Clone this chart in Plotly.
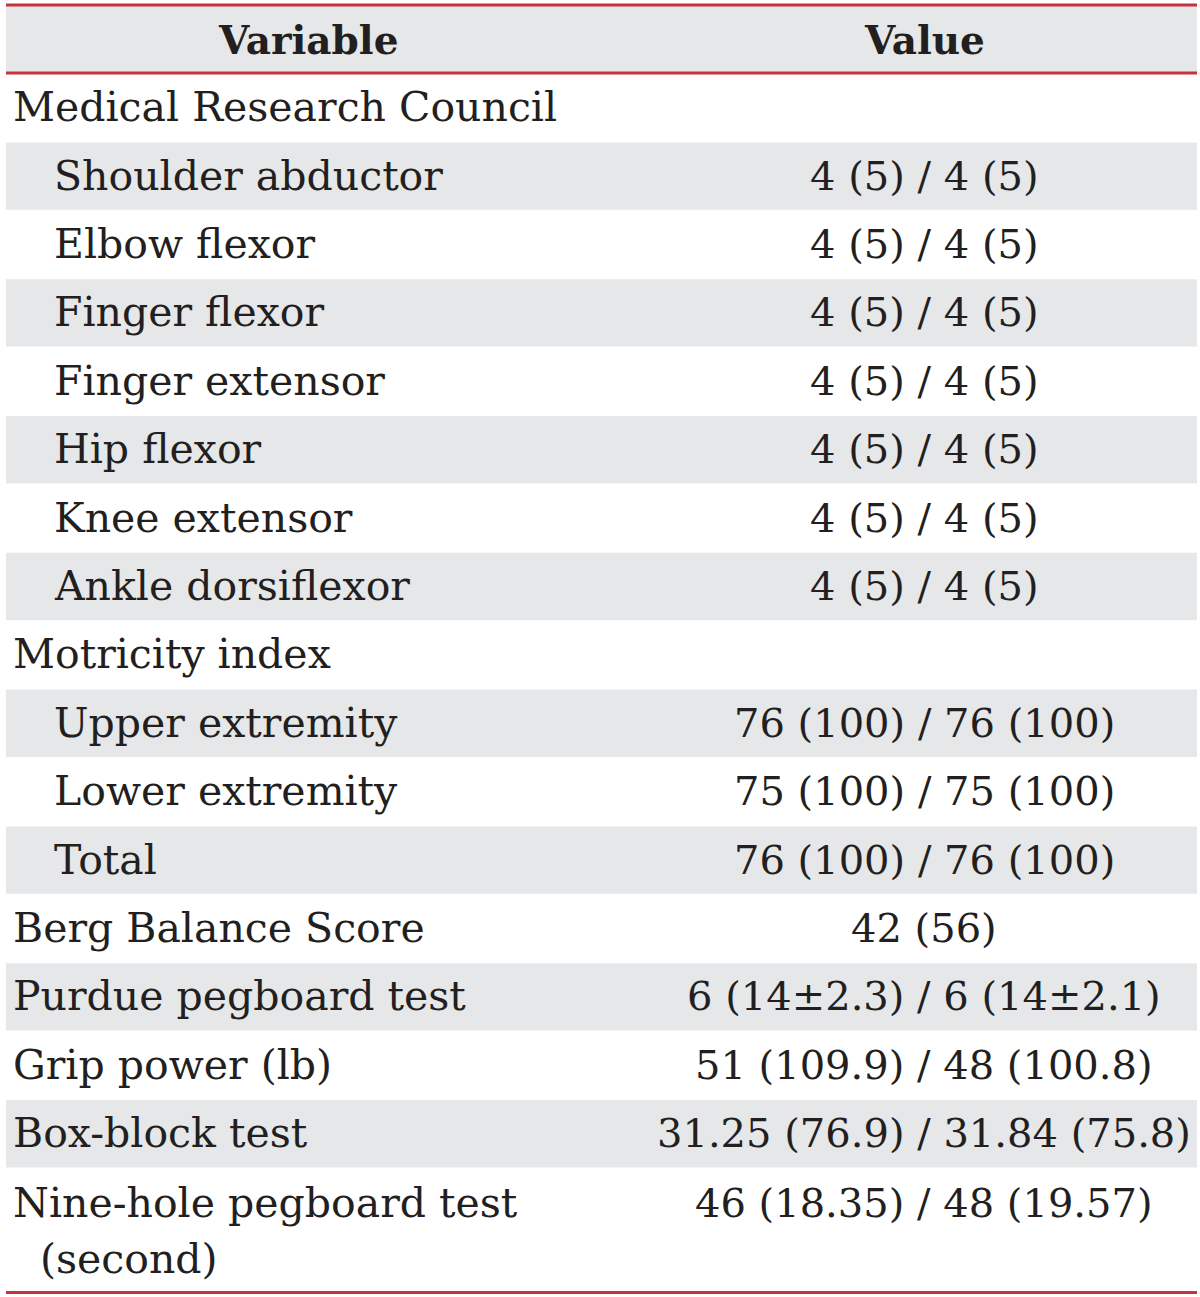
import plotly.graph_objects as go

header = ["Variable", "Value"]
variables = [
    "Medical Research Council",
    "Shoulder abductor",
    "Elbow flexor",
    "Finger flexor",
    "Finger extensor",
    "Hip flexor",
    "Knee extensor",
    "Ankle dorsiflexor",
    "Motricity index",
    "Upper extremity",
    "Lower extremity",
    "Total",
    "Berg Balance Score",
    "Purdue pegboard test",
    "Grip power (lb)",
    "Box-block test",
    "Nine-hole pegboard test<br>(second)",
]
levels = [0, 1, 1, 1, 1, 1, 1, 1, 0, 1, 1, 1, 0, 0, 0, 0, 0]
values = [
    "",
    "4 (5) / 4 (5)",
    "4 (5) / 4 (5)",
    "4 (5) / 4 (5)",
    "4 (5) / 4 (5)",
    "4 (5) / 4 (5)",
    "4 (5) / 4 (5)",
    "4 (5) / 4 (5)",
    "",
    "76 (100) / 76 (100)",
    "75 (100) / 75 (100)",
    "76 (100) / 76 (100)",
    "42 (56)",
    "6 (14±2.3) / 6 (14±2.1)",
    "51 (109.9) / 48 (100.8)",
    "31.25 (76.9) / 31.84 (75.8)",
    "46 (18.35) / 48 (19.57)",
]

W, H = 1200, 1297
LEFT, RIGHT = 6, 1197
TOP = 5
HEAD_BOT = 73
ROW_H = 68.4
LAST_H = 125
GRAY = "#e6e7e9"
RED = "#c8323c"
TXT = "#231f20"
FONT = "DejaVu Serif"
FS_VAR = 41
FS_VAL = 40
HFS = 39

fig = go.Figure()
shapes = []
annotations = []

shapes.append(dict(type="rect", xref="x", yref="y", x0=LEFT, x1=RIGHT, y0=TOP, y1=HEAD_BOT,
                   fillcolor=GRAY, line_width=0, layer="below"))

row_tops = []
y = HEAD_BOT
for i, v in enumerate(variables):
    h = LAST_H if "<br>" in v else ROW_H
    row_tops.append((y, h))
    if i % 2 == 1:
        shapes.append(dict(type="rect", xref="x", yref="y", x0=LEFT, x1=RIGHT, y0=y + 1, y1=y + h,
                           fillcolor=GRAY, line_width=0, layer="below"))
    y += h
BOTTOM = y

for yy in (TOP, HEAD_BOT, BOTTOM):
    shapes.append(dict(type="line", xref="x", yref="y", x0=LEFT, x1=RIGHT, y0=yy, y1=yy,
                       line=dict(color=RED, width=3)))

for txt, xc in zip(header, (308, 924)):
    annotations.append(dict(x=xc, y=(TOP + HEAD_BOT) / 2 + 1, text="<b>" + txt + "</b>",
                            xanchor="center", yanchor="middle", showarrow=False,
                            font=dict(family=FONT, size=HFS, color=TXT)))

for (top, h), v, lv, val in zip(row_tops, variables, levels, values):
    if "<br>" in v:
        yc = top + 36
        parts = v.split("<br>")
        annotations.append(dict(x=11, y=yc, text=parts[0], xanchor="left", yanchor="middle",
                                showarrow=False, font=dict(family=FONT, size=FS_VAR, color=TXT)))
        annotations.append(dict(x=38, y=yc + 56, text=parts[1], xanchor="left",
                                yanchor="middle", showarrow=False,
                                font=dict(family=FONT, size=FS_VAR, color=TXT)))
    else:
        yc = top + h / 2
        annotations.append(dict(x=11 + 41 * lv, y=yc, text=v, xanchor="left", yanchor="middle",
                                showarrow=False, font=dict(family=FONT, size=FS_VAR, color=TXT)))
    if val:
        annotations.append(dict(x=924, y=yc, text=val, xanchor="center", yanchor="middle",
                                showarrow=False, font=dict(family=FONT, size=FS_VAL, color=TXT)))

fig.update_layout(
    width=W, height=H,
    margin=dict(l=0, r=0, t=0, b=0),
    paper_bgcolor="white", plot_bgcolor="white",
    xaxis=dict(range=[0, W], visible=False, fixedrange=True),
    yaxis=dict(range=[H, 0], visible=False, fixedrange=True),
    shapes=shapes, annotations=annotations, showlegend=False,
)
fig.write_html("out.html", config={"displayModeBar": False},
               post_script="document.body.style.margin='0';document.body.style.overflow='hidden';")
